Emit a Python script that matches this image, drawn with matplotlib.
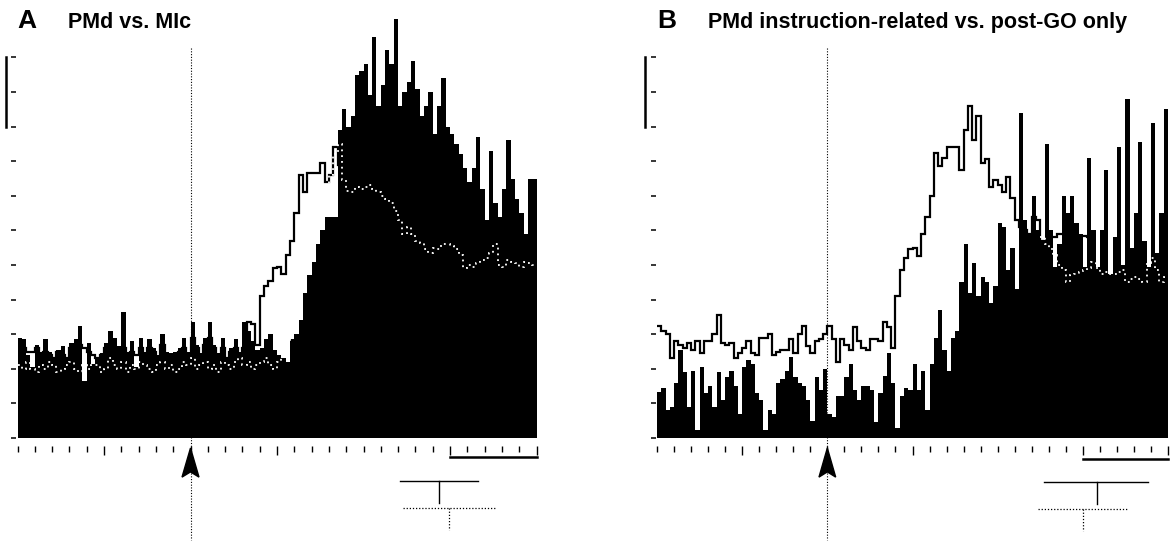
import numpy as np
import matplotlib.pyplot as plt
from matplotlib.patches import Polygon

# time axis runs over 30 tick intervals, histograms binned at 0.25 tick units
bin_w = 0.25
go_t = 10  # GO signal (arrow)

# Panel A: PMd vs. MIc  (filled = MIc, solid = PMd, white dotted = mean)
a_fill = [2.9, 2.85, 2.4, 2.05, 2.7, 2.5, 2.85, 2.5, 2.35, 2.55, 2.65, 2.3, 2.75, 2.85, 3.25, 1.65,
          2.75, 2.15, 2.3, 2.45, 2.75, 3.1, 2.9, 2.65, 3.65, 2.5, 2.8, 2.05, 2.9, 2.5, 2.85, 2.6,
          2.4, 3.0, 2.5, 2.45, 2.5, 2.6, 2.9, 2.5, 3.35, 2.7, 2.45, 2.9, 3.35, 2.7, 2.45, 2.9,
          2.35, 2.6, 2.85, 2.5, 3.35, 3.1, 2.8, 2.55, 2.6, 2.85, 3.0, 2.55, 2.4, 2.3, 2.2, 2.85,
          3.0, 3.4, 4.2, 4.7, 5.1, 5.6, 6.0, 6.4, 6.4, 6.4, 8.9, 9.5, 9.0, 9.3, 10.5, 10.6,
          10.8, 9.9, 11.6, 9.6, 10.2, 11.2, 10.8, 12.1, 9.6, 10.0, 10.3, 10.9, 10.1, 9.3, 9.6, 10.0,
          8.8, 9.6, 10.4, 9.0, 8.8, 8.5, 8.2, 7.8, 7.4, 7.8, 8.7, 7.2, 6.3, 8.3, 6.8, 6.4,
          7.2, 8.6, 7.5, 6.9, 6.5, 5.9, 7.5, 7.5]
a_line = [2.7, 2.6, 2.5, 2.5, 2.6, 2.4, 2.5, 2.4, 2.3, 2.5, 2.4, 2.3, 2.6, 2.6, 2.7, 2.6,
          2.5, 2.4, 2.3, 2.4, 2.6, 2.7, 2.6, 2.5, 2.6, 2.4, 2.5, 2.4, 2.6, 2.4, 2.6, 2.5,
          2.3, 2.7, 2.4, 2.3, 2.4, 2.5, 2.6, 2.4, 2.9, 2.6, 2.4, 2.7, 2.9, 2.6, 2.4, 2.6,
          2.3, 2.5, 2.6, 2.4, 2.6, 3.35, 3.3, 2.7, 4.1, 4.4, 4.55, 4.9, 4.95, 4.75, 5.3, 5.7,
          6.5, 7.6, 7.1, 7.65, 7.65, 7.65, 7.95, 7.4, 7.6, 8.4, 7.9]
a_dot = [2.1, 2.0, 2.2, 2.0, 1.9, 2.1, 2.0, 2.2, 2.1, 1.9, 2.0, 2.1, 2.2, 2.0, 1.9, 2.1,
         2.0, 2.2, 2.1, 1.9, 2.0, 2.3, 2.1, 2.0, 2.2, 1.9, 2.1, 2.0, 2.2, 2.1, 2.0, 1.9,
         2.1, 2.2, 2.0, 2.1, 1.9, 2.0, 2.2, 2.1, 2.3, 2.0, 2.1, 2.2, 2.0, 2.1, 1.9, 2.2,
         2.1, 2.0, 2.2, 2.3, 2.1, 2.2, 2.0, 2.1, 2.2, 2.3, 2.1, 2.0, 2.2, 2.4, 2.8, 3.2,
         3.8, 4.4, 5.0, 5.6, 6.1, 6.6, 7.0, 7.3, 7.6, 8.2, 8.5, 7.45, 7.15, 7.1, 7.25, 7.2,
         7.25, 7.3, 7.2, 7.1, 7.0, 6.9, 6.8, 6.55, 6.3, 5.9, 6.1, 5.9, 5.7, 5.65, 5.45, 5.35,
         5.5, 5.45, 5.6, 5.6, 5.55, 5.45, 5.3, 4.9, 5.0, 4.95, 5.05, 5.15, 5.2, 5.35, 5.6, 5.0,
         4.95, 5.15, 5.1, 5.05, 4.95, 5.1, 5.05, 5.0]
a_dot_start = 0.0

# Panel B: PMd instruction-related vs. post-GO only
b_fill = [1.33, 1.45, 0.8, 0.9, 1.6, 2.55, 1.9, 0.9, 1.95, 0.23, 2.05, 1.3, 1.5, 0.9, 1.9, 1.1,
          1.75, 1.95, 1.5, 0.7, 2.05, 2.25, 2.15, 1.3, 1.1, 0.23, 0.8, 0.7, 1.6, 1.7, 1.95, 2.35,
          1.75, 1.6, 1.5, 1.1, 0.5, 1.75, 1.4, 2.0, 0.7, 0.6, 1.2, 1.2, 1.75, 2.15, 1.4, 1.1,
          1.5, 1.5, 1.4, 0.45, 1.3, 1.8, 2.45, 1.6, 0.3, 1.2, 1.45, 1.4, 2.15, 1.4, 1.95, 0.8,
          2.15, 2.9, 3.7, 2.55, 1.95, 2.9, 3.1, 4.5, 5.6, 4.2, 5.05, 4.1, 4.65, 4.5, 3.9, 4.4,
          6.2, 6.1, 4.85, 5.5, 4.3, 9.4, 6.3, 5.9, 7.0, 6.0, 5.7, 8.5, 6.0, 4.95, 5.6, 7.0,
          6.5, 7.0, 6.2, 5.9, 4.95, 8.1, 6.0, 4.95, 6.0, 7.75, 4.75, 5.8, 8.4, 5.0, 9.8, 5.5,
          6.5, 8.55, 5.7, 4.95, 9.1, 5.35, 6.5, 9.5]
b_line = [3.25, 3.1, 3.0, 2.3, 2.8, 2.7, 2.6, 2.75, 2.55, 2.8, 2.45, 2.8, 2.8, 3.0, 3.55, 2.75,
          2.7, 2.75, 2.3, 2.45, 2.6, 2.8, 2.45, 2.4, 2.9, 2.9, 3.0, 2.4, 2.5, 2.55, 2.55, 2.85,
          2.45, 3.0, 3.25, 2.65, 2.45, 2.8, 2.85, 3.0, 3.25, 2.85, 2.2, 2.85, 2.7, 2.55, 3.2, 2.8,
          2.6, 2.55, 2.85, 2.85, 2.8, 3.35, 3.2, 2.6, 4.1, 4.85, 5.2, 5.45, 5.5, 5.25, 5.9, 6.4,
          7.0, 8.25, 7.85, 8.1, 8.4, 8.4, 8.4, 7.75, 8.9, 9.6, 8.6, 9.3, 7.95, 8.05, 7.25, 7.45,
          7.3, 7.1, 7.55, 6.95, 6.3, 6.1, 6.0, 5.9, 6.4, 6.3, 5.7, 5.7, 5.8, 5.8, 5.9, 5.9,
          5.9, 5.8, 5.85, 5.85, 5.85, 5.8]
b_dot = [5.8, 5.6, 5.45, 5.3, 5.0, 4.85, 4.5, 4.7, 4.75, 4.8, 4.85, 4.9, 5.1, 4.9, 4.75, 4.8,
         4.75, 4.75, 4.8, 4.85, 4.5, 4.6, 4.65, 4.6, 4.5, 5.05, 5.2, 4.85, 4.5, 4.65]
b_dot_start = 22.5

fig = plt.figure(figsize=(11.71, 5.42), dpi=100)
plt.rcParams['font.family'] = ['Liberation Sans', 'DejaVu Sans']

dot_fine = (0, (1, 1.5))


def draw_panel(ax, fill, line, dot, dot_start, vbar_t, hbar_y, solid_leg, dotted_leg):
    edges = np.arange(len(fill) + 1) * bin_w
    ax.stairs(fill, edges, fill=True, color='black', lw=0.3, zorder=2)
    ax.stairs(line, np.arange(len(line) + 1) * bin_w, baseline=None,
              color='black', lw=1.6, zorder=3)
    ax.stairs(dot, dot_start + np.arange(len(dot) + 1) * bin_w, baseline=None,
              color='white', lw=1.3, ls=(0, (1, 2.2)), zorder=4)

    ax.set_xlim(0, 30)
    ax.set_ylim(0, 12.5)
    for s in ['top', 'right', 'left', 'bottom']:
        ax.spines[s].set_visible(False)
    ax.spines['left'].set_position(('outward', 1))
    ax.spines['bottom'].set_position(('outward', 6))
    ax.set_yticks(range(12))
    ax.set_yticklabels([])
    ax.set_xticks([5, 15, 25, 30])
    ax.set_xticks(range(31), minor=True)
    ax.set_xticklabels([])
    ax.tick_params(axis='y', direction='out', length=3.6, width=1.1)
    ax.tick_params(axis='x', which='major', direction='out', length=6.5, width=1.0)
    ax.tick_params(axis='x', which='minor', direction='out', length=4.3, width=1.0)

    # GO line and arrow
    ax.plot([go_t, go_t], [11.27, -2.95], color='black', lw=0.8, ls=dot_fine,
            clip_on=False, zorder=1)
    ax.add_patch(Polygon([[go_t, -0.29], [go_t + 0.49, -1.13], [go_t, -0.98],
                          [go_t - 0.49, -1.13]], closed=True, color='black',
                         clip_on=False, zorder=5))

    # scale bars
    ax.plot([vbar_t, vbar_t], [9, 11], color='black', lw=1.8, clip_on=False)
    ax.plot([25, 30], [hbar_y, hbar_y], color='black', lw=1.8, clip_on=False)

    # key symbols under the axis
    x0, x1, xv, y0, y1 = solid_leg
    ax.plot([x0, x1], [y0, y0], color='black', lw=1.0, clip_on=False)
    ax.plot([xv, xv], [y0, y1], color='black', lw=1.0, clip_on=False)
    x0, x1, xv, y0, y1 = dotted_leg
    ax.plot([x0, x1], [y0, y0], color='black', lw=0.9, ls=dot_fine, clip_on=False)
    ax.plot([xv, xv], [y0, y1], color='black', lw=0.9, ls=dot_fine, clip_on=False)


ax_a = fig.add_axes([17.5 / 1171, 104 / 542, 519 / 1171, 432.5 / 542])
draw_panel(ax_a, a_fill, a_line, a_dot, a_dot_start, -0.64, -0.55,
           (22.1, 26.6, 24.36, -1.24, -1.88), (22.28, 27.6, 24.94, -2.02, -2.66))

ax_b = fig.add_axes([657 / 1171, 104 / 542, 511 / 1171, 432.5 / 542])
draw_panel(ax_b, b_fill, b_line, b_dot, b_dot_start, -0.70, -0.61,
           (22.72, 28.83, 25.84, -1.27, -1.91), (22.37, 27.66, 25.01, -2.05, -2.69))

ytxt = 1 - 28 / 542
fig.text(17 / 1171, ytxt, 'A', fontsize=19, fontweight='bold', va='baseline')
fig.text(68 / 1171, ytxt, 'PMd vs. MIc', fontsize=15.5, fontweight='bold', va='baseline')
fig.text(657 / 1171, ytxt, 'B', fontsize=19, fontweight='bold', va='baseline')
fig.text(708 / 1171, ytxt, 'PMd instruction-related vs. post-GO only', fontsize=15.5,
         fontweight='bold', va='baseline')

fig.savefig('out.png', dpi=100)
